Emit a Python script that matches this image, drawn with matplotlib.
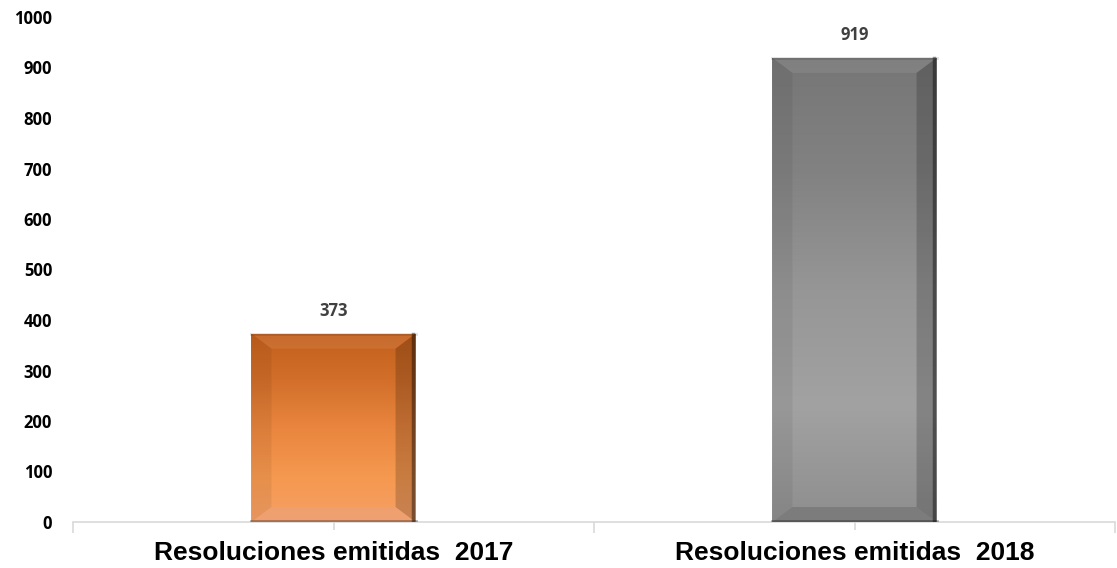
import numpy as np
import matplotlib
matplotlib.use('Agg')
import matplotlib.pyplot as plt
from matplotlib.patches import Polygon
from matplotlib.colors import LinearSegmentedColormap

categories = ['Resoluciones emitidas  2017', 'Resoluciones emitidas  2018']
values = [373, 919]
value_labels = ['373', '919']
yticks = list(range(0, 1001, 100))

# shading of each bar, top -> bottom
grad_stops = [
    ['#C25F1C', '#D26F2A', '#E9853E', '#F5984F', '#F6A066'],
    ['#767676', '#828282', '#969696', '#A2A2A2', '#8E8E8E'],
]
bottom_bevel = ['#EBA27A', '#707070']

fig = plt.figure(figsize=(11.17, 5.68), dpi=100)
ax = fig.add_axes([73 / 1117, 46 / 568, (1115 - 73) / 1117, 505 / 568])

x = np.arange(len(values))
width = 0.315
bars = ax.bar(x, values, width, color=[g[2] for g in grad_stops], zorder=2)
ax.set_xlim(-0.5, len(values) - 0.5)
ax.set_ylim(0, 1000)

# bevel size in pixels -> data units
fig.canvas.draw()
bw_px, bh_px = 20, 15
ax_w = ax.get_window_extent().width
ax_h = ax.get_window_extent().height
dx = bw_px / ax_w * (len(values))
dy = bh_px / ax_h * 1000

for i, b in enumerate(bars):
    x0, y0 = b.get_x(), b.get_y()
    x1, y1 = x0 + b.get_width(), y0 + b.get_height()
    cmap = LinearSegmentedColormap.from_list('g%d' % i, grad_stops[i])
    grad = np.linspace(0, 1, 256).reshape(-1, 1)
    im = ax.imshow(grad, cmap=cmap, aspect='auto', extent=(x0, x1, y0, y1),
                   origin='upper', zorder=3, interpolation='bilinear')
    im.set_clip_path(b)
    # top bevel
    ax.add_patch(Polygon([(x0, y1), (x1, y1), (x1 - dx, y1 - dy), (x0 + dx, y1 - dy)],
                         closed=True, fc='white', alpha=0.08, ec='none', zorder=4))
    # bottom bevel
    ax.add_patch(Polygon([(x0, y0), (x1, y0), (x1 - dx, y0 + dy), (x0 + dx, y0 + dy)],
                         closed=True, fc=bottom_bevel[i], alpha=0.6, ec='none', zorder=4))
    # left bevel
    ax.add_patch(Polygon([(x0, y0), (x0, y1), (x0 + dx, y1 - dy), (x0 + dx, y0 + dy)],
                         closed=True, fc='black', alpha=0.06, ec='none', zorder=4))
    # right bevel
    ax.add_patch(Polygon([(x1, y0), (x1, y1), (x1 - dx, y1 - dy), (x1 - dx, y0 + dy)],
                         closed=True, fc='black', alpha=0.18, ec='none', zorder=4))
    ax.plot([x1 - 0.004, x1 - 0.004], [y0, y1], color='black', alpha=0.4, lw=2.5, zorder=5)
    ax.plot([x0, x1], [y0 + 2, y0 + 2], color='black', alpha=0.3, lw=2, zorder=5)
    ax.plot([x0, x1], [y1 - 1, y1 - 1], color='black', alpha=0.12, lw=2, zorder=5)
    ax.annotate(value_labels[i], (b.get_x() + b.get_width() / 2, y1),
                xytext=(0, 10), textcoords='offset points', ha='center', va='bottom',
                fontsize=12, fontweight='bold', color='#404040', family='Open Sans')

for s in ['top', 'right', 'left']:
    ax.spines[s].set_visible(False)
ax.spines['bottom'].set_color('#D9D9D9')
ax.spines['bottom'].set_linewidth(1.2)
ax.spines['bottom'].set_zorder(1)

ax.set_yticks(yticks)
ax.set_yticklabels([str(v) for v in yticks], fontsize=12, fontweight='bold', family='Open Sans')
ax.tick_params(axis='y', length=0, pad=15)

ax.set_xticks(x)
ax.set_xticklabels(categories, fontsize=19, fontweight='bold', family='Liberation Sans')
ax.set_xticks(np.arange(len(values) + 1) - 0.5, minor=True)
ax.tick_params(axis='x', which='major', direction='inout', length=12, color='#D9D9D9', width=1.2, pad=8)
ax.tick_params(axis='x', which='minor', direction='out', length=8, color='#D9D9D9', width=1.2)

plt.savefig('out.png', dpi=100)
